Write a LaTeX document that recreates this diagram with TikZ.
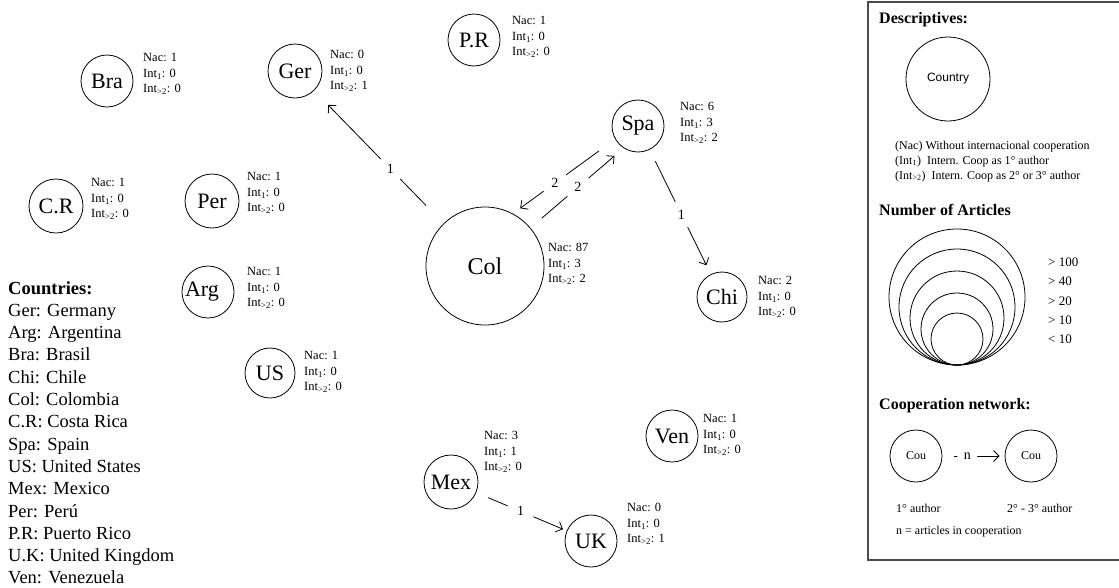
\documentclass[tikz,border=0pt]{standalone}
\usepackage{fontspec}
\setmainfont{Liberation Serif}
\newfontfamily\arialfont{Liberation Sans}
\usetikzlibrary{arrows.meta}

\begin{document}
\begin{tikzpicture}[x=1pt,y=-1pt,
  country/.style={draw, circle, line width=0.8pt, inner sep=0pt, minimum size=52pt, font=\fontsize{22}{24}\selectfont},
  info/.style={anchor=west, align=left, inner sep=0pt, font=\fontsize{12.5}{15.5}\selectfont},
  coop/.style={draw, line width=0.8pt, -{Straight Barb[length=5.5pt,width=11pt]}},
  num/.style={circle, fill=white, inner sep=0pt, minimum size=28pt, font=\fontsize{14}{16}\selectfont},
  heading/.style={anchor=base west, inner sep=0pt, font=\fontsize{16}{18}\selectfont\bfseries},
  legtext/.style={anchor=base west, inner sep=0pt, font=\fontsize{12}{15}\selectfont}]
\useasboundingbox (0,0) rectangle (1119,587);

% countries
\node[country] (bra) at (107,81) {Bra};
\node[country, minimum size=54pt] (ger) at (295,71) {Ger};
\node[country] (pr) at (474,40) {P.R};
\node[country] (spa) at (638,126) {Spa};
\node[country, minimum size=118pt, font=\fontsize{24}{26}\selectfont] (col) at (485,266) {Col};
\node[country, minimum size=50pt] (chi) at (722,297) {Chi};
\node[country, minimum size=54pt] (cr) at (56,206) {C.R};
\node[country, minimum size=54pt] (per) at (212,201) {Per};
\node[country] (arg) at (208,292) {\hspace*{-12pt}Arg};
\node[country, minimum size=50pt] (us) at (270,373) {US};
\node[country] (ven) at (672,436) {Ven};
\node[country, minimum size=54pt] (mex) at (451,482) {Mex};
\node[country] (uk) at (591,541) {UK};

% numbers per country
\node[info] (bra-info) at (143,74) {Nac: 1\\Int\textsubscript{1}: 0\\Int\textsubscript{>2}: 0};
\node[info] (ger-info) at (330,71) {Nac: 0\\Int\textsubscript{1}: 0\\Int\textsubscript{>2}: 1};
\node[info] (pr-info) at (512,37) {Nac: 1\\Int\textsubscript{1}: 0\\Int\textsubscript{>2}: 0};
\node[info] (spa-info) at (680,123) {Nac: 6\\Int\textsubscript{1}: 3\\Int\textsubscript{>2}: 2};
\node[info] (col-info) at (548,264) {Nac: 87\\Int\textsubscript{1}: 3\\Int\textsubscript{>2}: 2};
\node[info] (chi-info) at (758,297) {Nac: 2\\Int\textsubscript{1}: 0\\Int\textsubscript{>2}: 0};
\node[info] (cr-info) at (91,199) {Nac: 1\\Int\textsubscript{1}: 0\\Int\textsubscript{>2}: 0};
\node[info] (per-info) at (247,193) {Nac: 1\\Int\textsubscript{1}: 0\\Int\textsubscript{>2}: 0};
\node[info] (arg-info) at (247,288) {Nac: 1\\Int\textsubscript{1}: 0\\Int\textsubscript{>2}: 0};
\node[info] (us-info) at (304,372) {Nac: 1\\Int\textsubscript{1}: 0\\Int\textsubscript{>2}: 0};
\node[info] (ven-info) at (703,435) {Nac: 1\\Int\textsubscript{1}: 0\\Int\textsubscript{>2}: 0};
\node[info] (mex-info) at (484,452) {Nac: 3\\Int\textsubscript{1}: 1\\Int\textsubscript{>2}: 0};
\node[info] (uk-info) at (627,524) {Nac: 0\\Int\textsubscript{1}: 0\\Int\textsubscript{>2}: 1};

% cooperation
\draw[coop, shorten <=25pt, shorten >=20pt] (col) -- node[num, pos=0.41] {1} (ger);
\draw[coop, shorten <=20pt, shorten >=9pt] (spa.210) -- node[num, pos=0.59] {2} (col.62);
\draw[coop, shorten <=15pt, shorten >=12pt] (col.40) -- node[num, pos=0.51] {2} (spa.237);
\draw[coop, shorten <=13pt, shorten >=10pt] (spa) -- node[num, pos=0.52] {1} (chi);
\draw[coop, shorten <=13pt, shorten >=4pt] (mex) -- node[num, pos=0.49] {1} (uk);

% list of countries
\node[anchor=base west, inner sep=0pt, font=\fontsize{18.5}{20}\selectfont\bfseries] (list) at (8,294) {Countries:};
\foreach \t [count=\i] in {Ger: Germany, Arg: Argentina, Bra: Brasil, Chi: Chile, Col: Colombia, C.R: Costa Rica, Spa: Spain, US: United States, Mex: Mexico, Per: Perú, P.R: Puerto Rico, U.K: United Kingdom, Ven: Venezuela}
  \node[anchor=base west, inner sep=0pt, font=\fontsize{18.5}{20}\selectfont] at (8,{294+22.3*\i}) {\t};

% legend
\draw[black!70, line width=1.5pt] (868,2) rectangle (1121,560);
\node[heading] (desc) at (879,23) {Descriptives:};
\node[draw, circle, line width=0.8pt, inner sep=0pt, minimum size=84pt, font=\arialfont\fontsize{12}{14}\selectfont] (leg-country) at (948,79) {Country};
\node[legtext] at (895,149) {(Nac) Without internacional cooperation};
\node[legtext] at (895,164) {(Int\textsubscript{1})\enspace Intern. Coop as 1° author};
\node[legtext] at (895,179) {(Int\textsubscript{>2})\enspace Intern. Coop as 2° or 3° author};

\node[heading] (narts) at (879,215) {Number of Articles};
\foreach \r in {68,58,47,36,26}
  \draw[line width=0.8pt] (957,{365-\r}) circle (\r pt);
\foreach \t [count=\i] in {> 100, > 40, > 20, > 10, < 10}
  \node[anchor=west, inner sep=0pt, font=\fontsize{13}{15}\selectfont] at (1048,{243+19.3*\i}) {\t};

\node[heading] (coopnet) at (879,409) {Cooperation network:};
\node[country, font=\fontsize{12}{14}\selectfont] (cou-a) at (916,456) {Cou};
\node[country, font=\fontsize{12}{14}\selectfont] (cou-b) at (1031,456) {Cou};
\draw[coop, shorten <=12pt, shorten >=5pt] (cou-a) -- node[num, pos=0.4, minimum size=20pt] {n} (cou-b);
\node[legtext] at (896,512) {1° author};
\node[legtext] at (1007,512) {2° - 3° author};
\node[legtext] at (896,534) {n = articles in cooperation};
\end{tikzpicture}
\end{document}
